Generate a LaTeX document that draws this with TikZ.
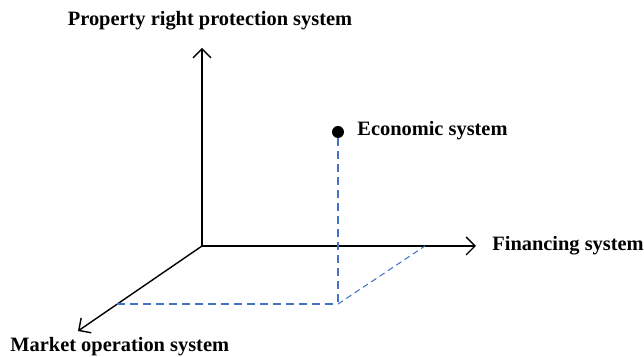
\documentclass[tikz,border=0pt]{standalone}
\usepackage{fontspec}
\setmainfont{Liberation Serif}
\usetikzlibrary{arrows.meta}
\definecolor{dashblue}{RGB}{68,114,196}
\begin{document}
\begin{tikzpicture}[x=0.5pt,y=-0.5pt,
    axis/.style={-{Straight Barb[length=4.5pt,width=9pt]},line width=0.7pt},
    guide/.style={dashblue,line width=0.6pt,dash pattern=on 4pt off 2.5pt},
    lbl/.style={font=\fontsize{10.2}{11}\selectfont\bfseries,inner sep=0pt}]
  \useasboundingbox (0,0) rectangle (644,357);
  % axes
  \coordinate (o) at (202,246);
  \coordinate (z) at (202,48);
  \coordinate (x) at (476,246);
  \coordinate (y) at (78,331);
  \draw[axis] (o) -- (z);
  \draw[axis] (o) -- (x);
  \draw[axis] (o) -- (y);
  % point and its projection
  \node[circle,fill,inner sep=0pt,minimum size=6pt] (e) at (338,132) {};
  \coordinate (p) at (338,304);
  \coordinate (q) at (117,304);
  \coordinate (r) at (425,246);
  \draw[guide] (e) -- (p);
  \draw[guide] (q) -- (p);
  \draw[guide,line width=0.5pt,dash pattern=on 3pt off 2pt] (p) -- (r);
  % labels
  \node[lbl] (lz) at (210,21) {Property right protection system};
  \node[lbl,anchor=west] (le) at (357,131) {Economic system};
  \node[lbl,anchor=west] (lx) at (492,246) {Financing system};
  \node[lbl,anchor=west] (ly) at (10,347) {Market operation system};
\end{tikzpicture}
\end{document}
